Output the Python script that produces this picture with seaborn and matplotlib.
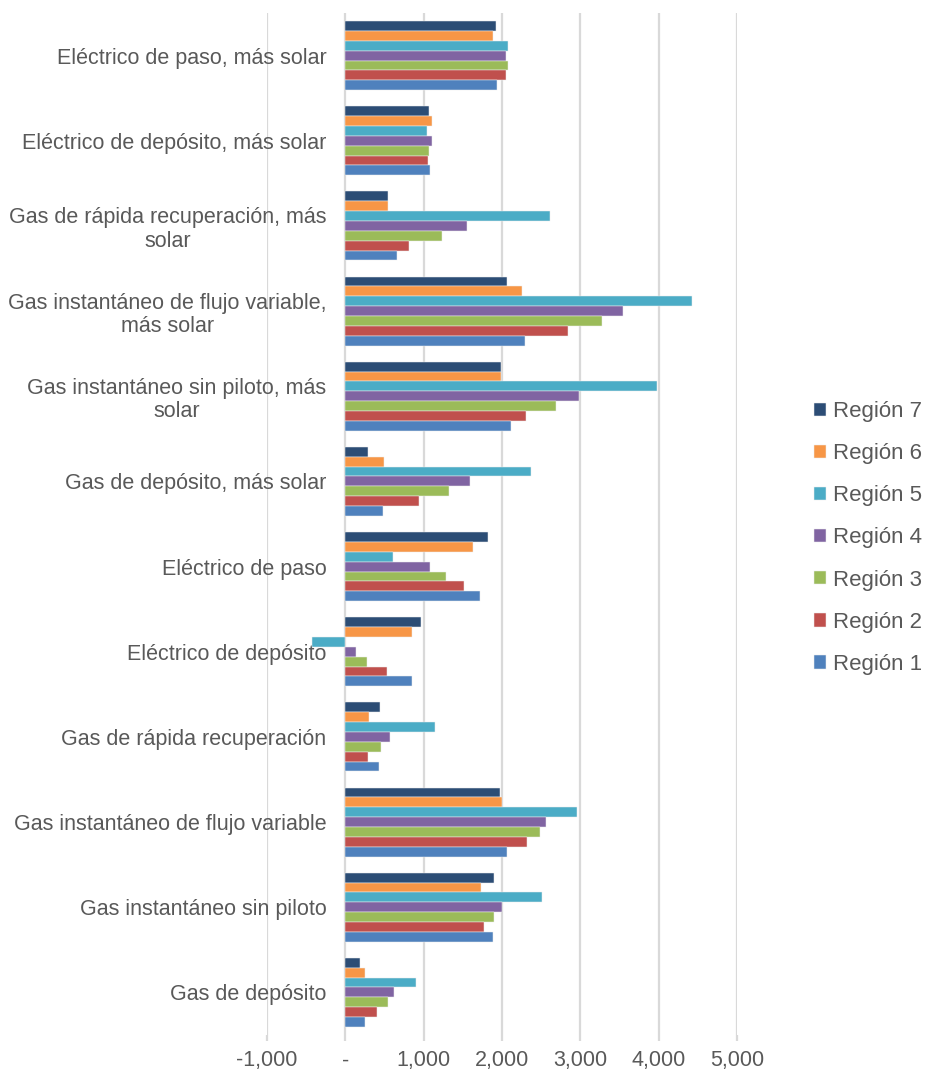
import matplotlib
matplotlib.use("Agg")
import matplotlib.pyplot as plt
from matplotlib.ticker import FuncFormatter, FixedLocator
import seaborn as sns
import pandas as pd

# Water-heater technologies (top to bottom as drawn)
categorias = [
    "Eléctrico de paso, más solar",
    "Eléctrico de depósito, más solar",
    "Gas de rápida recuperación, más\nsolar",
    "Gas instantáneo de flujo variable,\nmás solar",
    "Gas instantáneo sin piloto, más\nsolar",
    "Gas de depósito, más solar",
    "Eléctrico de paso",
    "Eléctrico de depósito",
    "Gas de rápida recuperación",
    "Gas instantáneo de flujo variable",
    "Gas instantáneo sin piloto",
    "Gas de depósito",
]

regiones = ["Región 7", "Región 6", "Región 5", "Región 4",
            "Región 3", "Región 2", "Región 1"]

region_7 = [1920, 1070, 540, 2070, 1990, 290, 1820, 970, 440, 1970, 1895, 190]
region_6 = [1880, 1105, 545, 2260, 1990, 495, 1630, 855, 300, 2005, 1735, 245]
region_5 = [2080, 1040, 2610, 4430, 3985, 2370, 610, -425, 1140, 2955, 2515, 900]
region_4 = [2055, 1105, 1555, 3540, 2985, 1595, 1080, 130, 570, 2560, 2005, 615]
region_3 = [2080, 1070, 1240, 3275, 2685, 1325, 1290, 280, 450, 2485, 1900, 540]
region_2 = [2045, 1055, 815, 2845, 2305, 940, 1520, 530, 290, 2315, 1775, 410]
region_1 = [1940, 1075, 655, 2290, 2115, 480, 1715, 845, 435, 2060, 1885, 250]

series = [region_7, region_6, region_5, region_4, region_3, region_2, region_1]

colores = ["#2C4D75", "#F79646", "#4BACC6", "#8064A2",
           "#9BBB59", "#C0504D", "#4F81BD"]

ticks_x = [-1000, 0, 1000, 2000, 3000, 4000, 5000]

df = pd.DataFrame(
    [(cat, reg, val)
     for reg, vals in zip(regiones, series)
     for cat, val in zip(categorias, vals)],
    columns=["Tipo", "Región", "Valor"],
)

sns.set_theme(style="white")
plt.rcParams["font.family"] = ["Liberation Sans", "DejaVu Sans"]
texto = "#595959"
rejilla = "#D9D9D9"

W, H = 928, 1077
fig = plt.figure(figsize=(W / 100, H / 100), dpi=100)
ax = fig.add_axes([267 / W, (H - 1035) / H, (737 - 267) / W, (1035 - 13) / H])

sns.barplot(
    data=df, y="Tipo", x="Valor", hue="Región",
    order=categorias, hue_order=regiones, palette=colores,
    orient="h", width=0.81, saturation=1, edgecolor="#EDEDED",
    linewidth=0.35, errorbar=None, ax=ax,
)

ax.set_xlim(-1000, 5000)
ax.set_ylim(len(categorias) - 0.5, -0.5)
ax.xaxis.set_major_locator(FixedLocator(ticks_x))
ax.xaxis.set_major_formatter(
    FuncFormatter(lambda v, p: "-" if v == 0 else f"{v:,.0f}"))
ax.grid(axis="x", color=rejilla, linewidth=1.6)
ax.grid(axis="y", visible=False)
ax.set_axisbelow(True)
for s in ax.spines.values():
    s.set_visible(False)

# Category labels sit next to the zero line
ax.spines["left"].set_position(("data", 0))
ax.tick_params(axis="y", length=0, pad=13.5, labelsize=15.5, labelcolor=texto)
for lbl in ax.get_yticklabels():
    lbl.set_multialignment("center")
    lbl.set_linespacing(1.15)
ax.tick_params(axis="x", length=4, width=1.6, color=rejilla, direction="out",
               pad=7, labelsize=15.5, labelcolor=texto, bottom=True)
ax.set_xlabel("")
ax.set_ylabel("")

handles, labels = ax.get_legend_handles_labels()
ax.legend(
    handles, labels, loc="center left", bbox_to_anchor=(805 / W, 1 - 538 / H),
    bbox_transform=fig.transFigure, frameon=False, fontsize=16,
    labelcolor=texto, handlelength=0.55, handleheight=0.55,
    handletextpad=0.3, labelspacing=0.95, borderaxespad=0,
)

fig.savefig("out.png", dpi=100)
